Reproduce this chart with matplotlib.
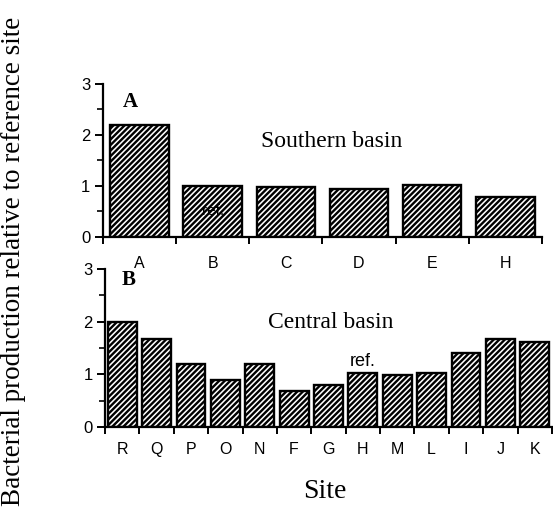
import matplotlib
matplotlib.use("Agg")
import matplotlib.pyplot as plt
import numpy as np

south_sites = ["A", "B", "C", "D", "E", "H"]
south_vals = [2.2, 1.0, 0.97, 0.94, 1.02, 0.79]
central_sites = ["R", "Q", "P", "O", "N", "F", "G", "H", "M", "L", "I", "J", "K"]
central_vals = [2.0, 1.68, 1.2, 0.9, 1.2, 0.68, 0.8, 1.02, 0.99, 1.02, 1.4, 1.68, 1.62]
yticks = [0, 1, 2, 3]

plt.rcParams['hatch.linewidth'] = 1.7
SANS = ['Liberation Sans', 'DejaVu Sans']
SERIF = ['Liberation Serif', 'DejaVu Serif']

fig = plt.figure(figsize=(5.53, 5.16), dpi=100)
ax1 = fig.add_axes([0.186, 0.541, 0.794, 0.2965])
ax2 = fig.add_axes([0.190, 0.1725, 0.808, 0.306])

def style(ax, sites, vals, width, pad):
    x = np.arange(len(sites))
    ax.bar(x, vals, width=width, facecolor='white', edgecolor='black',
           linewidth=1.7, hatch='//////')
    ax.set_xlim(-0.5, len(sites) - 0.5)
    ax.set_ylim(0, 3)
    for s in ['top', 'right']:
        ax.spines[s].set_visible(False)
    for s in ['left', 'bottom']:
        ax.spines[s].set_linewidth(1.6)
    ax.set_xticks(x)
    ax.set_xticklabels(sites, fontfamily=SANS, fontsize=11.5)
    ax.set_xticks(np.arange(len(sites) + 1) - 0.5, minor=True)
    ax.tick_params(axis='x', which='major', length=0, pad=pad)
    ax.tick_params(axis='x', which='minor', length=5, width=1.4, direction='out')
    ax.set_yticks(yticks)
    ax.set_yticklabels([str(v) for v in yticks], fontfamily=SANS, fontsize=12)
    ax.set_yticks([0.5, 1.5, 2.5], minor=True)
    ax.tick_params(axis='y', which='major', length=6, width=1.4, pad=3)
    ax.tick_params(axis='y', which='minor', length=4, width=1.2)

style(ax1, south_sites, south_vals, 0.8, 14)
style(ax2, central_sites, central_vals, 0.84, 11)

ax1.text(0.046, 0.88, "A", transform=ax1.transAxes, fontfamily=SERIF,
         fontweight='bold', fontsize=15, va='center', ha='left')
ax1.text(0.52, 0.62, "Southern basin", transform=ax1.transAxes, fontfamily=SERIF,
         fontsize=17, va='center', ha='center')
ax1.text(1, 0.51, "ref.", fontfamily=SANS, fontsize=11, ha='center', va='center')

ax2.text(0.038, 0.93, "B", transform=ax2.transAxes, fontfamily=SERIF,
         fontweight='bold', fontsize=15, va='center', ha='left')
ax2.text(0.505, 0.66, "Central basin", transform=ax2.transAxes, fontfamily=SERIF,
         fontsize=17, va='center', ha='center')
ax2.text(7, 1.25, "ref.", fontfamily=SANS, fontsize=13, ha='center', va='center')

fig.text(0.024, 0.493, "Bacterial production relative to reference site",
         rotation=90, fontfamily=SERIF, fontsize=19.5, ha='center', va='center')
fig.text(0.588, 0.048, "Site", fontfamily=SERIF, fontsize=20, ha='center', va='center')

fig.savefig("out.png", dpi=100, facecolor='white')
